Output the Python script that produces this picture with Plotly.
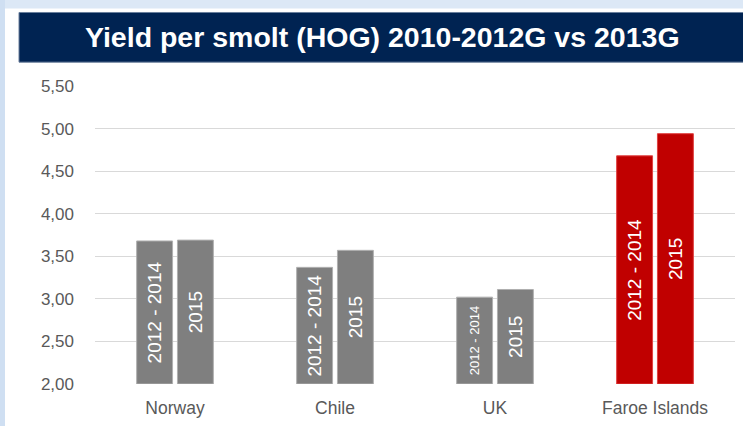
import plotly.graph_objects as go

categories = ["Norway", "Chile", "UK", "Faroe Islands"]
series_names = ["2012 - 2014", "2015"]
values_2012_2014 = [3.68, 3.37, 3.02, 4.68]
values_2015 = [3.69, 3.57, 3.11, 4.94]
y_tick_values = [2.0, 2.5, 3.0, 3.5, 4.0, 4.5, 5.0, 5.5]
title_text = "Yield per smolt (HOG) 2010-2012G vs 2013G"

BASE = 2.0
GREY = "#7f7f7f"
RED = "#c00000"
bar_colors = [GREY, GREY, GREY, RED]
edge_colors = ["#b0b0b0", "#b0b0b0", "#b0b0b0", "#e04040"]
FONT = "Liberation Sans, Arial, sans-serif"

W, H = 743, 426
L, R, T, B = 95, 8, 86, 40
PW, PH = W - L - R, H - T - B


def px(x):
    return (x - L) / PW


def py(y):
    return (H - B - y) / PH


fig = go.Figure()
for name, vals, sizes in [
    (series_names[0], values_2012_2014, [19, 19, 13, 19]),
    (series_names[1], values_2015, [19, 19, 19, 19]),
]:
    fig.add_trace(go.Bar(
        name=name,
        x=categories,
        y=[v - BASE for v in vals],
        base=[BASE] * len(vals),
        marker=dict(color=bar_colors, line=dict(color=edge_colors, width=1)),
        text=[name] * len(vals),
        textposition="inside",
        insidetextanchor="middle",
        textangle=-90,
        textfont=dict(family=FONT, size=sizes, color="white"),
        hovertext=[f"{v:.2f}" for v in vals],
        hoverinfo="x+text",
    ))

shapes = [
    # light blue frame strips
    dict(type="rect", xref="paper", yref="paper", x0=px(0), x1=px(W + 5),
         y0=py(8), y1=py(-5), fillcolor="#dce8f6", line=dict(width=0), layer="below"),
    dict(type="rect", xref="paper", yref="paper", x0=px(-5), x1=px(5),
         y0=py(H + 5), y1=py(-5), fillcolor="#cfdff2", line=dict(width=0), layer="below"),
    # title bar
    dict(type="rect", xref="paper", yref="paper", x0=px(19), x1=px(W + 5),
         y0=py(62), y1=py(12), fillcolor="#002352",
         line=dict(color="#6a7f9c", width=1), layer="below"),
]

fig.update_layout(
    width=W, height=H,
    margin=dict(l=L, r=R, t=T, b=B, pad=0),
    paper_bgcolor="white",
    plot_bgcolor="white",
    barmode="group",
    bargap=0.49,
    bargroupgap=0.12,
    showlegend=False,
    separators=",.",
    font=dict(family=FONT, color="#595959", size=17),
    shapes=shapes,
    annotations=[dict(
        text=f"<b>{title_text}</b>", xref="paper", yref="paper",
        x=px(382), y=py(37), xanchor="center", yanchor="middle",
        showarrow=False, font=dict(family=FONT, size=28.5, color="white"),
    )],
    xaxis=dict(
        showgrid=False, showline=False, ticks="",
        tickfont=dict(size=17.5, color="#595959"),
        ticklabelstandoff=11,
    ),
    yaxis=dict(
        range=[2.0, 5.5],
        tickvals=y_tick_values,
        tickformat=".2f",
        showgrid=True, gridcolor="#d9d9d9", gridwidth=1,
        zeroline=False, showline=False, ticks="",
        tickfont=dict(size=17, color="#595959"),
        ticklabelstandoff=20,
    ),
)

fig.write_html(
    "out.html",
    config={"displayModeBar": False},
    post_script="document.body.style.margin='0';document.body.style.overflow='hidden';",
)
